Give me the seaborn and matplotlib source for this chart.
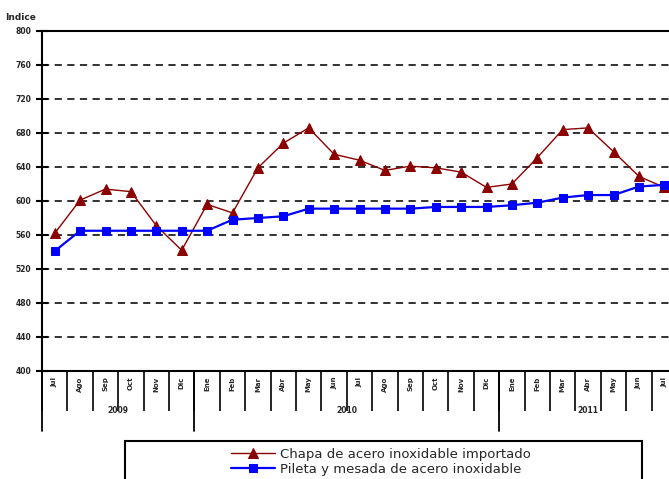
import matplotlib
matplotlib.use("Agg")
import matplotlib.pyplot as plt
import matplotlib.transforms as mtransforms
from matplotlib.patches import Rectangle
import numpy as np
import pandas as pd
import seaborn as sns

# monthly index, Jul 2009 - Jul 2011
meses = ["Jul", "Ago", "Sep", "Oct", "Nov", "Dic",
         "Ene", "Feb", "Mar", "Abr", "May", "Jun", "Jul", "Ago", "Sep", "Oct", "Nov", "Dic",
         "Ene", "Feb", "Mar", "Abr", "May", "Jun", "Jul"]
anios = ["2009", "2010", "2011"]
anio_rango = [(0, 5), (6, 17), (18, 24)]

chapa = [562, 601, 614, 611, 571, 542,
         596, 586, 639, 668, 686, 655, 648, 636, 641, 639, 634, 616,
         620, 651, 684, 686, 658, 629, 616]
pileta = [541, 565, 565, 565, 565, 565,
          565, 578, 580, 582, 591, 591, 591, 591, 591, 593, 593, 593,
          595, 598, 604, 607, 607, 617, 619]

nombre_chapa = "Chapa de acero inoxidable importado"
nombre_pileta = "Pileta y mesada de acero inoxidable"
yticks = [400, 440, 480, 520, 560, 600, 640, 680, 720, 760, 800]

W, H = 669, 479
sns.set_theme(style="white")
plt.rcParams['font.family'] = ['DejaVu Sans']

fig = plt.figure(figsize=(W / 100, H / 100), dpi=100)
left, right, top, bottom = 42, 677, 31, 371
ax = fig.add_axes([left / W, 1 - bottom / H, (right - left) / W, (bottom - top) / H])

df = pd.DataFrame({"mes": np.arange(len(meses)), "chapa": chapa, "pileta": pileta})

sns.lineplot(data=df, x="mes", y="chapa", ax=ax, color="#8B0000", lw=1.0,
             marker="^", markersize=6.5, markeredgecolor="#8B0000", label=nombre_chapa)
sns.lineplot(data=df, x="mes", y="pileta", ax=ax, color="#0000FF", lw=1.6,
             marker="s", markersize=5.5, markeredgecolor="#0000FF", label=nombre_pileta)

ax.set_xlim(-0.5, len(meses) - 0.5)
ax.set_ylim(400, 800)
ax.set_xlabel("")
ax.set_ylabel("")

# y axis
ax.set_yticks(yticks)
ax.set_yticklabels([str(v) for v in yticks], fontsize=5.5, fontweight="bold")
ax.tick_params(axis="y", direction="inout", length=9, width=1.5, color="black", pad=3, left=True)
for v in yticks[1:-1]:
    ax.axhline(v, color="#222222", lw=1.3, ls=(0, (4, 3)), zorder=0)

# x axis: month labels and separators
ax.set_xticks(np.arange(len(meses)))
ax.set_xticklabels(meses, rotation=90, fontsize=5, fontweight="bold")
ax.tick_params(axis="x", which="major", length=0, pad=4)
ax.set_xticks(np.arange(len(meses) + 1) - 0.5, minor=True)
ax.tick_params(axis="x", which="minor", direction="out", length=29, width=1.2,
               color="black", bottom=True)

trans = mtransforms.blended_transform_factory(ax.transData, ax.transAxes)
for (a, b), anio in zip(anio_rango, anios):
    ax.plot([a - 0.5, a - 0.5], [0, -0.175], color="black", lw=1.3,
            transform=trans, clip_on=False)
    ax.text((a + b) / 2, -0.115, anio, transform=trans, ha="center", va="center",
            fontsize=5.5, fontweight="bold")

for s in ["left", "top", "bottom"]:
    ax.spines[s].set_color("black")
    ax.spines[s].set_linewidth(1.5)
ax.spines["right"].set_visible(False)

fig.text(5 / W, 1 - 17 / H, "Indice", fontsize=6.5, fontweight="bold", va="center")

# legend with a plain box
box = Rectangle((125 / W, 1 - 500 / H), (642 - 125) / W, (500 - 441) / H,
                transform=fig.transFigure, fill=False, ec="black", lw=1.5, clip_on=False)
fig.add_artist(box)
ax.legend(loc="upper left", bbox_to_anchor=(224 / W, 1 - 441 / H),
          bbox_transform=fig.transFigure, frameon=False, fontsize=9.5,
          handlelength=3.4, handletextpad=0.35, labelspacing=0.15, borderpad=0)

fig.savefig("out.png", dpi=100)
